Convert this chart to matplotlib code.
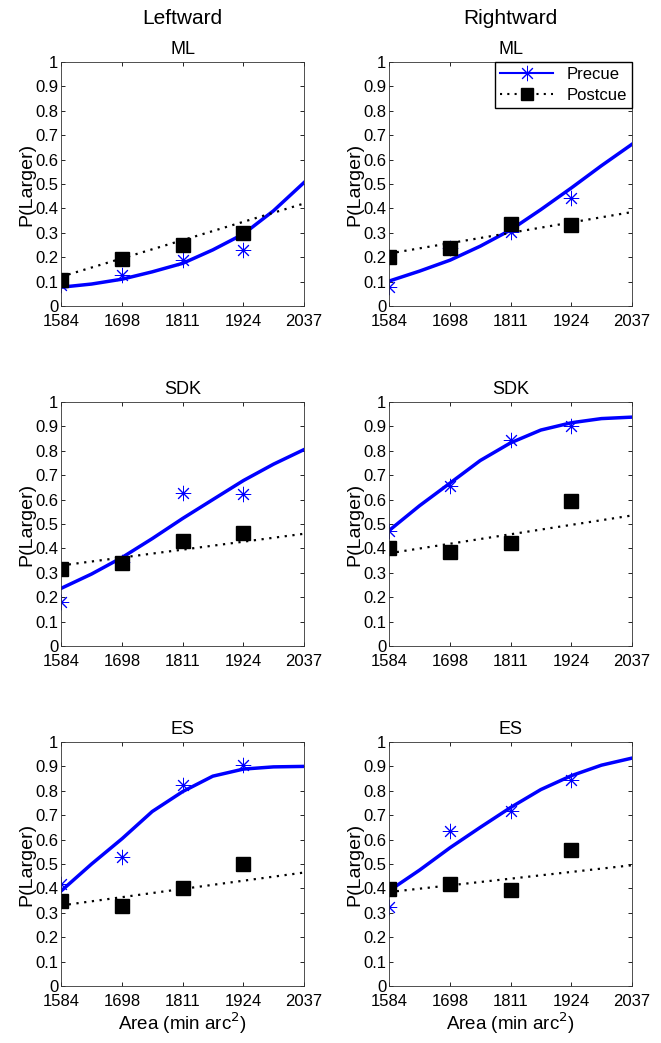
import numpy as np
import matplotlib
matplotlib.use("Agg")
import matplotlib.pyplot as plt
from matplotlib.lines import Line2D

plt.rcParams['font.family'] = ['Liberation Sans', 'DejaVu Sans']

# stimulus areas (x ticks)
areas = [1584, 1698, 1811, 1924, 2037]
pts_x = [1584, 1698, 1811, 1924]
fit_x = [1584, 1641, 1698, 1754, 1811, 1867, 1924, 1980, 2037]
line_x = [1584, 1811, 2037]

# observed proportions
pre_left_ml = [0.086, 0.127, 0.189, 0.23]
post_left_ml = [0.107, 0.193, 0.25, 0.298]
pre_right_ml = [0.078, 0.237, 0.305, 0.443]
post_right_ml = [0.202, 0.237, 0.336, 0.33]
pre_left_sdk = [0.182, 0.345, 0.627, 0.622]
post_left_sdk = [0.315, 0.34, 0.431, 0.462]
pre_right_sdk = [0.473, 0.657, 0.846, 0.901]
post_right_sdk = [0.40, 0.384, 0.421, 0.595]
pre_left_es = [0.42, 0.529, 0.823, 0.906]
post_left_es = [0.35, 0.327, 0.40, 0.50]
pre_right_es = [0.325, 0.637, 0.718, 0.845]
post_right_es = [0.397, 0.42, 0.395, 0.556]

# fitted curves (precue solid, postcue dotted)
fit_pre_left_ml = [0.077, 0.09, 0.11, 0.14, 0.175, 0.23, 0.295, 0.39, 0.506]
fit_pre_right_ml = [0.102, 0.143, 0.188, 0.245, 0.312, 0.395, 0.484, 0.575, 0.663]
fit_pre_left_sdk = [0.236, 0.295, 0.363, 0.44, 0.523, 0.60, 0.678, 0.745, 0.805]
fit_pre_right_sdk = [0.473, 0.575, 0.668, 0.76, 0.833, 0.885, 0.915, 0.932, 0.938]
fit_pre_left_es = [0.389, 0.50, 0.604, 0.715, 0.797, 0.86, 0.889, 0.898, 0.90]
fit_pre_right_es = [0.39, 0.475, 0.567, 0.65, 0.732, 0.805, 0.862, 0.905, 0.934]

fit_post_left_ml = [0.12, 0.27, 0.42]
fit_post_right_ml = [0.215, 0.30, 0.385]
fit_post_left_sdk = [0.33, 0.395, 0.46]
fit_post_right_sdk = [0.38, 0.458, 0.535]
fit_post_left_es = [0.33, 0.398, 0.465]
fit_post_right_es = [0.385, 0.44, 0.495]

panels = [
    ("ML", pre_left_ml, post_left_ml, fit_pre_left_ml, fit_post_left_ml),
    ("ML", pre_right_ml, post_right_ml, fit_pre_right_ml, fit_post_right_ml),
    ("SDK", pre_left_sdk, post_left_sdk, fit_pre_left_sdk, fit_post_left_sdk),
    ("SDK", pre_right_sdk, post_right_sdk, fit_pre_right_sdk, fit_post_right_sdk),
    ("ES", pre_left_es, post_left_es, fit_pre_left_es, fit_post_left_es),
    ("ES", pre_right_es, post_right_es, fit_pre_right_es, fit_post_right_es),
]

W, H = 661, 1043
fig = plt.figure(figsize=(W/100, H/100), dpi=100)

lefts = [61, 389]
tops = [62, 402, 742]
aw, ah = 243, 244
star = (8, 2, 0)   # matlab-like asterisk (plus + cross)
dots = (0, (1, 2.5))

for i, (name, pre, post, fpre, fpost) in enumerate(panels):
    r, c = i // 2, i % 2
    ax = fig.add_axes([lefts[c]/W, 1 - (tops[r]+ah)/H, aw/W, ah/H])
    ax.plot(fit_x, fpre, '-', color='#0000ff', lw=2.5, solid_joinstyle='round')
    ax.plot(line_x, fpost, ls=dots, color='black', lw=1.6)
    ax.plot(pts_x, pre, ls='none', marker=star, color='#0000ff', ms=11, mew=0.7)
    ax.plot(pts_x, post, 's', color='black', ms=9.5, ls='none')
    ax.set_xlim(1584, 2037)
    ax.set_ylim(0, 1)
    ax.set_xticks(areas)
    ax.set_yticks(np.arange(0, 1.01, 0.1))
    ax.set_yticklabels(['0'] + ['%.1f' % v for v in np.arange(0.1, 0.95, 0.1)] + ['1'])
    ax.tick_params(direction='in', top=True, right=True, labelsize=12, length=3, width=0.6)
    ax.tick_params(axis='x', pad=6)
    ax.tick_params(axis='y', pad=2)
    for s in ax.spines.values():
        s.set_linewidth(0.6)
        s.set_color('#333333')
    ax.set_ylabel('P(Larger)', fontsize=14, labelpad=0)
    ax.set_title(name, fontsize=13, pad=6)
    if r == 2:
        ax.set_xlabel('Area (min arc$^2$)', fontsize=13.5, labelpad=1)
    if i == 1:
        h1 = Line2D([], [], color='#0000ff', lw=1.5, marker=star, ms=11, mew=0.7)
        h2 = Line2D([], [], color='black', lw=1.5, ls=dots, marker='s', ms=8)
        ax.legend([h1, h2], ['Precue', 'Postcue'], loc='upper right', fontsize=12,
                  fancybox=False, edgecolor='black', framealpha=1, borderpad=0.3,
                  handlelength=3.2, borderaxespad=0, labelspacing=0.35)

fig.text((61 + aw/2)/W, 1 - 18/H, 'Leftward', ha='center', va='center', fontsize=15)
fig.text((389 + aw/2)/W, 1 - 18/H, 'Rightward', ha='center', va='center', fontsize=15)

fig.savefig('out.png', dpi=100)
